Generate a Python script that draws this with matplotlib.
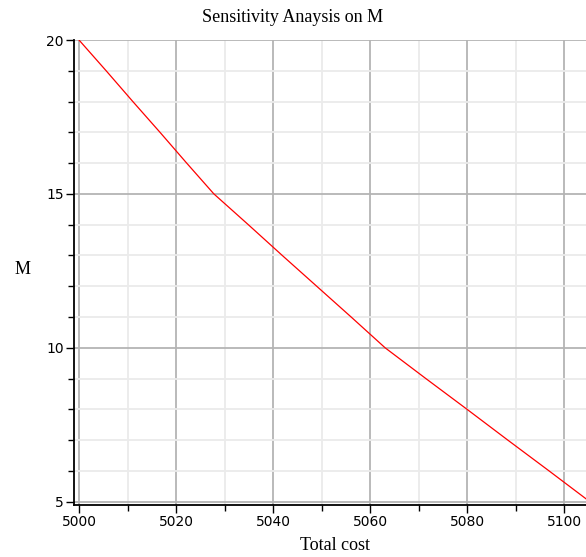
import matplotlib
matplotlib.use("Agg")
import matplotlib.pyplot as plt
from matplotlib.ticker import MultipleLocator

# total cost at each integer value of M
M_values = [20, 19, 18, 17, 16, 15, 14, 13, 12, 11, 10, 9, 8, 7, 6, 5]
total_cost = [5000.0, 5005.6, 5011.1, 5016.7, 5022.2, 5027.8, 5034.9, 5041.9,
              5049.0, 5056.1, 5063.1, 5071.5, 5080.0, 5088.4, 5096.9, 5105.3]

x_major = [5000, 5020, 5040, 5060, 5080, 5100]
y_major = [5, 10, 15, 20]

W, H = 586, 557
fig = plt.figure(figsize=(W / 100, H / 100), dpi=100)
ax = fig.add_axes([74 / W, 52.5 / H, (W - 74) / W, (517 - 52.5) / H])

ax.plot(total_cost, M_values, color="#ff0000", linewidth=0.9, zorder=3)

ax.set_xlim(4998.97, 5104.5)
ax.set_ylim(4.91, 20.0)

ax.xaxis.set_major_locator(plt.FixedLocator(x_major))
ax.xaxis.set_minor_locator(MultipleLocator(10))
ax.yaxis.set_major_locator(plt.FixedLocator(y_major))
ax.yaxis.set_minor_locator(MultipleLocator(1))

ax.grid(which="major", color="#b4b4b4", linewidth=1.3)
ax.grid(which="minor", color="#ebebeb", linewidth=1.3)
ax.set_axisbelow(True)

for side in ("top", "right"):
    ax.spines[side].set_visible(False)
for side in ("left", "bottom"):
    ax.spines[side].set_linewidth(1.3)
    ax.spines[side].set_color("black")

ax.tick_params(which="major", length=6, width=1.0, direction="out", pad=1.5)
ax.tick_params(which="minor", length=4.5, width=1.0, direction="out")
for lab in ax.get_xticklabels() + ax.get_yticklabels():
    lab.set_fontfamily("DejaVu Sans")
    lab.set_fontsize(10)

serif = dict(family="Liberation Serif", fontsize=13)
fig.text(293 / W, 1 - 17 / H, "Sensitivity Anaysis on M", ha="center", va="center", **serif)
fig.text(335 / W, 1 - 545 / H, "Total cost", ha="center", va="center", **serif)
fig.text(23 / W, 1 - 270 / H, "M", ha="center", va="center", **serif)

fig.savefig("out.png", dpi=100)
